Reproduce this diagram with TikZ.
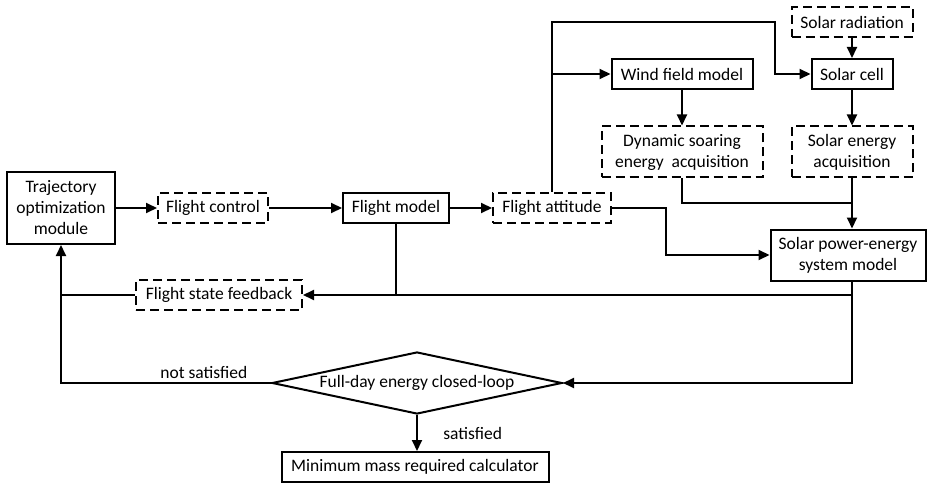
\documentclass[tikz,border=0pt]{standalone}
\usepackage{fontspec}
\setmainfont{Carlito}
\usetikzlibrary{arrows.meta,positioning,shapes.geometric}

\begin{document}
\begin{tikzpicture}[x=1pt,y=-1pt,line width=2pt,
    >={Triangle[length=11pt,width=10pt]},
    font=\fontsize{17.5}{21}\selectfont,
    block/.style={draw,rectangle,inner sep=0pt,align=center},
    dblock/.style={block,dash pattern=on 9pt off 5pt},
    decision/.style={draw,diamond,aspect=4.7,inner sep=0pt}]
\useasboundingbox (0,0) rectangle (927,484);
% main loop
\node[block,minimum width=108pt,minimum height=72pt] (traj) at (61,208) {Trajectory\\optimization\\module};
\node[dblock,minimum width=110pt,minimum height=29pt] (fctrl) at (213,208) {Flight control};
\node[block,minimum width=106pt,minimum height=30pt] (fmodel) at (396,208) {Flight model};
\node[dblock,minimum width=118pt,minimum height=30pt] (fatt) at (552,208) {Flight attitude};
\node[dblock,minimum width=166pt,minimum height=30pt] (fsf) at (219,295) {Flight state feedback};
\node[block,minimum width=155pt,minimum height=51pt] (spower) at (848,255) {Solar power-energy\\system model};
% energy sources
\node[dblock,minimum width=121pt,minimum height=30pt] (srad) at (852,22) {Solar radiation};
\node[block,minimum width=81pt,minimum height=30pt] (scell) at (852,74) {Solar cell};
\node[block,minimum width=141pt,minimum height=30pt] (wind) at (682,74) {Wind field model};
\node[dblock,minimum width=161pt,minimum height=51pt] (dsoar) at (682,152) {Dynamic soaring\\energy\ \ acquisition};
\node[dblock,minimum width=121pt,minimum height=51pt] (sacq) at (852,152) {Solar energy\\acquisition};
% decision
\node[decision,minimum width=290pt,minimum height=62pt] (loop) at (417,383) {Full-day energy closed-loop};
\node[block,minimum width=267pt,minimum height=30pt] (minmass) at (415,467) {Minimum mass required calculator};

\coordinate (turn) at (775,22);
\coordinate (merge) at (sacq.south |- 0,203);
\coordinate (out) at (sacq.south |- spower.south);

\draw[->] (traj) -- (fctrl);
\draw[->] (fctrl) -- (fmodel);
\draw[->] (fmodel) -- (fatt);
\draw[->] (fatt.north) |- (turn) |- (scell.west);
\draw[->] (fatt.north |- wind) -- (wind.west);
\draw[->] (srad) -- (scell);
\draw[->] (wind) -- (dsoar);
\draw[->] (scell) -- (sacq);
\draw (dsoar.south) |- (merge);
\draw[->] (sacq.south) -- (sacq.south |- spower.north);
\draw[->] (fatt.east) -- ++(54,0) |- (spower.west);
% feedback
\draw[->] (out) |- (loop.east);
\draw[->] (out |- fsf) -- (fsf.east);
\draw (fmodel.south) -- (fmodel.south |- fsf);
\draw (fsf.west) -- (traj.south |- fsf);
\draw[->] (loop.west) -| (traj.south) node[pos=0.16,above] {not satisfied};
\draw[->] (loop.south) -- (loop.south |- minmass.north) node[midway,right=22pt] {satisfied};
\end{tikzpicture}
\end{document}
